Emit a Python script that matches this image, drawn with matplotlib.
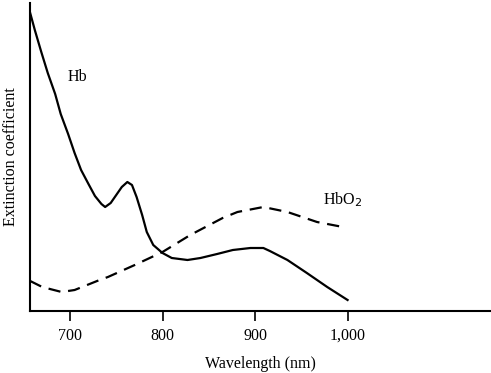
import matplotlib.pyplot as plt

# Values (arbitrary extinction units)
hb_wavelength = [657, 662, 669, 676, 684, 690, 698, 705, 712, 720, 727, 734,
                 738, 744, 750, 756, 762, 767, 772, 778, 783, 790, 800, 810,
                 827, 841, 859, 876, 895, 909, 916, 935, 956, 978, 1000]
hb_extinction = [298, 281, 259, 238, 217, 197, 177, 158, 141, 127, 115, 107,
                 104, 108, 116, 124, 129, 126, 114, 96, 79, 66, 58, 53,
                 51, 53, 57, 61, 63, 63, 60, 51, 38, 24, 11]

hbo2_wavelength = [657, 670, 691, 705, 732, 741, 770, 800, 830, 865, 881,
                   909, 935, 967, 995]
hbo2_extinction = [30, 24, 19, 21, 31, 34, 46, 59, 76, 93, 99, 104, 99, 89, 84]

tick_values = [700, 800, 900, 1000]
tick_labels = ["700", "800", "900", "1,000"]

plt.rcParams['font.family'] = ['Liberation Serif', 'DejaVu Serif']

fig = plt.figure(figsize=(4.91, 3.73), dpi=100)
ax = fig.add_axes([30 / 491, 62 / 373, 461 / 491, 308 / 373])

# Curves
ax.plot(hb_wavelength, hb_extinction, color='black', lw=1.6,
        solid_joinstyle='round')
ax.plot(hbo2_wavelength, hbo2_extinction, color='black', lw=1.6,
        dashes=(5.5, 3.5))

ax.text(708, 234, "Hb", fontsize=11.5, ha='center', va='center')
ax.text(995, 111, "HbO$_2$", fontsize=11.5, ha='center', va='center')

ax.set_xlim(656.8, 1155)
ax.set_ylim(0, 308)

ax.set_xticks(tick_values)
ax.set_xticklabels(tick_labels, fontsize=11.5)
ax.set_yticks([])
ax.tick_params(axis='x', direction='out', length=7, width=1.2, pad=5)

for side in ['top', 'right']:
    ax.spines[side].set_visible(False)
for side in ['left', 'bottom']:
    ax.spines[side].set_linewidth(1.5)

ax.set_xlabel("Wavelength (nm)", fontsize=11.5, labelpad=9)
ax.set_ylabel("Extinction coefficient", fontsize=11.5, labelpad=8)

fig.savefig("out.png", dpi=100)
